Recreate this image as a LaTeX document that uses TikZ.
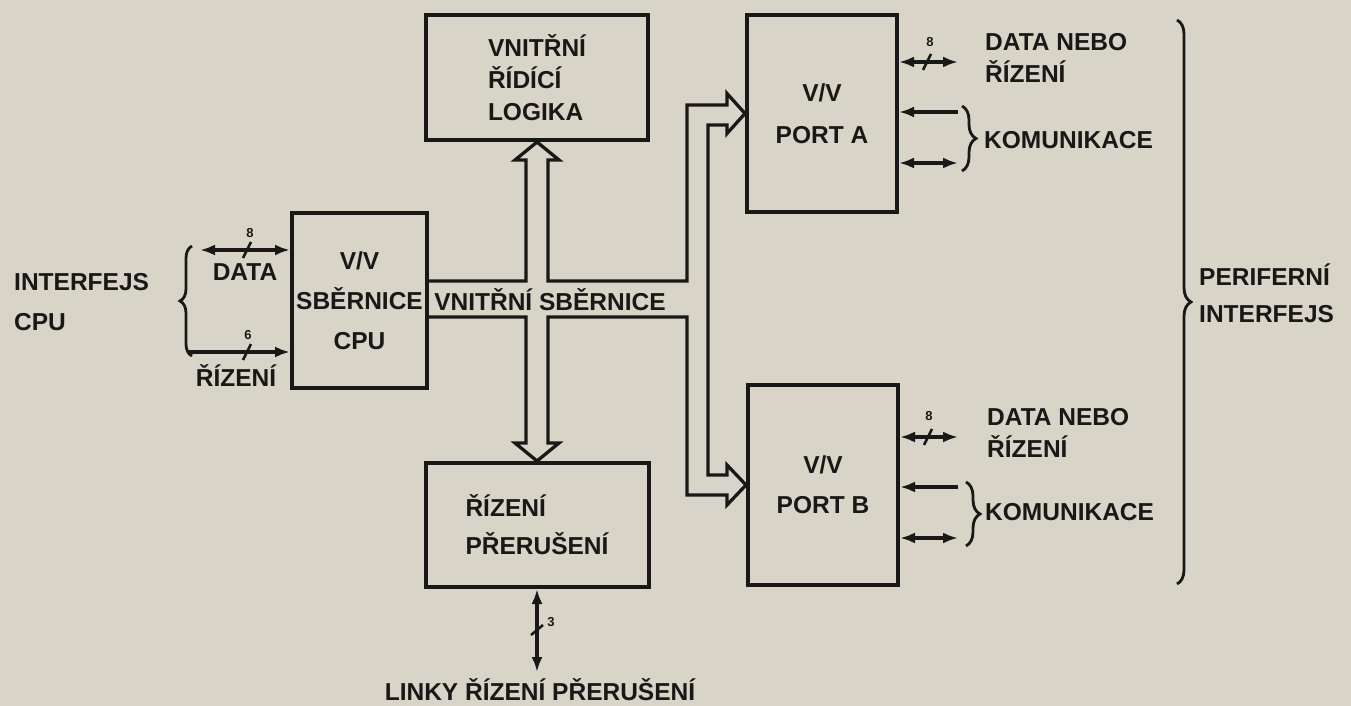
\documentclass[tikz,border=0pt]{standalone}
\usepackage{fontspec}
\setmainfont{Liberation Sans}
\usetikzlibrary{arrows.meta,decorations.pathreplacing}
\definecolor{papir}{RGB}{216,213,200}
\definecolor{inkoust}{RGB}{24,24,22}

\begin{document}
\begin{tikzpicture}[x=1pt,y=-1pt,line join=miter,
    >={Latex[length=15pt,width=11pt]},
    every node/.style={font=\fontsize{24.5}{30}\selectfont\bfseries,text=inkoust,inner sep=0pt},
    blok/.style={draw=inkoust,line width=4pt},
    vodic/.style={draw=inkoust,line width=3.3pt},
    lom/.style={draw=inkoust,line width=2.5pt},
    cislo/.style={font=\fontsize{13}{13}\selectfont\bfseries},
    zavorka/.style={draw=inkoust,line width=2.8pt,decorate,decoration={brace,amplitude=#1}}]

  \fill[papir] (0,0) rectangle (1351,706);

  % bloky
  \node[blok,minimum width=222pt,minimum height=125pt,align=left] (logika) at (537,77.5) {VNITŘNÍ\\[2pt]ŘÍDÍCÍ\\[2pt]LOGIKA};
  \node[blok,minimum width=135pt,minimum height=175pt,align=center] (vvCPU) at (359.5,300.5) {V/V\\[10pt]SBĚRNICE\\[10pt]CPU};
  \node[blok,minimum width=150pt,minimum height=197pt,align=center] (portA) at (822,113.5) {V/V\\[12pt]PORT A};
  \node[blok,minimum width=150pt,minimum height=200pt,align=center] (portB) at (823,485) {V/V\\[10pt]PORT B};
  \node[blok,minimum width=223pt,minimum height=124pt,align=left] (preruseni) at (537,525) {ŘÍZENÍ\\[8pt]PŘERUŠENÍ};

  % vnitřní sběrnice
  \coordinate (busH) at (0,281);
  \coordinate (busD) at (0,317);
  \draw[vodic] (vvCPU.east |- busH) -- (526,281) -- (526,160) -- (515,160) -- (logika.south)
     -- (559,160) -- (548,160) -- (548,281) -- (687,281) -- (687,105) -- (727,105) -- (727,93.5)
     -- (portA.west) -- (727,133.5) -- (727,125) -- (708,125) -- (708,475) -- (727,475) -- (727,465)
     -- (portB.west) -- (727,505) -- (727,495) -- (687,495) -- (687,317) -- (548,317) -- (548,443)
     -- (559,443) -- (preruseni.north) -- (515,443) -- (526,443) -- (526,317) -- (vvCPU.east |- busD);
  \node (sbernL) at (550,300) {VNITŘNÍ SBĚRNICE};

  % interfejs CPU
  \coordinate (cData) at (200,250);
  \coordinate (cRiz) at (187,352);
  \draw[vodic,<->] (cData) -- (vvCPU.west |- cData);
  \draw[vodic,->] (cRiz) -- (vvCPU.west |- cRiz);
  \draw[lom] (243,258) -- (251,242);
  \draw[lom] (243,360) -- (251,344);
  \node[cislo] (c8) at (250,233) {8};
  \node[cislo] (c6) at (248,335) {6};
  \node (dataL) at (245,272) {DATA};
  \node (rizL) at (236,376) {ŘÍZENÍ};
  \draw[zavorka=12pt] (192,356) -- (192,246);
  \node[anchor=west,align=left] (ifCPU) at (14,302) {INTERFEJS\\[10pt]CPU};

  % port A
  \coordinate (aData) at (958,62);
  \coordinate (aKom1) at (958,112);
  \coordinate (aKom2) at (958,163);
  \draw[vodic,<->] (portA.east |- aData) -- (aData);
  \draw[vodic,<-] (portA.east |- aKom1) -- (aKom1);
  \draw[vodic,<->] (portA.east |- aKom2) -- (aKom2);
  \draw[lom] (923,70) -- (931,54);
  \node[cislo] (a8) at (930,42) {8};
  \draw[zavorka=14pt] (962,106) -- (962,171);
  \node[anchor=west] (aKom) at (984,140) {KOMUNIKACE};
  \node[anchor=west,align=left] (aPopis) at (985,58) {DATA NEBO\\[2pt]ŘÍZENÍ};

  % port B
  \coordinate (bData) at (958,437);
  \coordinate (bKom1) at (958,487);
  \coordinate (bKom2) at (958,538);
  \draw[vodic,<->] (portB.east |- bData) -- (bData);
  \draw[vodic,<-] (portB.east |- bKom1) -- (bKom1);
  \draw[vodic,<->] (portB.east |- bKom2) -- (bKom2);
  \draw[lom] (924,445) -- (932,429);
  \node[cislo] (b8) at (929,416) {8};
  \draw[zavorka=14pt] (966,482) -- (966,546);
  \node[anchor=west] (bKom) at (985,512) {KOMUNIKACE};
  \node[anchor=west,align=left] (bPopis) at (987,433) {DATA NEBO\\[2pt]ŘÍZENÍ};

  % periferní interfejs
  \draw[zavorka=14pt] (1177,20) -- (1177,584);
  \node[anchor=west,align=left] (perif) at (1199,293) {PERIFERNÍ\\[7pt]INTERFEJS};

  % linky přerušení
  \coordinate (linky) at (537,672);
  \draw[vodic,<->] (linky |- preruseni.south) -- (linky);
  \draw[lom] (531,635) -- (543,625);
  \node[cislo] (p3) at (551,622) {3};
  \node (linkyL) at (540,690) {LINKY ŘÍZENÍ PŘERUŠENÍ};
\end{tikzpicture}
\end{document}
